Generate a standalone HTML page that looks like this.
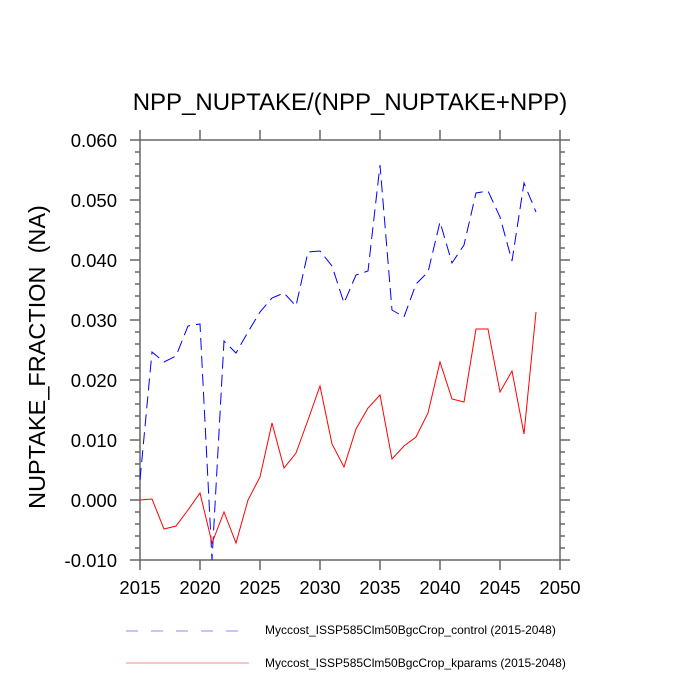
<!DOCTYPE html>
<html><head><meta charset="utf-8"><style>body{margin:0;background:#fff}svg{display:block}</style></head><body>
<svg width="700" height="700" xmlns="http://www.w3.org/2000/svg" font-family="Liberation Sans, sans-serif">
<rect width="700" height="700" fill="#fff"/>
<text x="350" y="110" font-size="24" text-anchor="middle">NPP_NUPTAKE/(NPP_NUPTAKE+NPP)</text>
<text transform="translate(45,357) rotate(-90)" font-size="23.5" text-anchor="middle" xml:space="preserve">NUPTAKE_FRACTION  (NA)</text>
<g stroke="#666" stroke-width="1.5" fill="none">
<rect x="140" y="140" width="420" height="420"/>
<path d="M140,560v10M200,560v10M260,560v10M320,560v10M380,560v10M440,560v10M500,560v10M560,560v10
M140,140v-10M200,140v-10M260,140v-10M320,140v-10M380,140v-10M440,140v-10M500,140v-10M560,140v-10
M140,140h-10M140,200h-10M140,260h-10M140,320h-10M140,380h-10M140,440h-10M140,500h-10M140,560h-10
M560,140h10M560,200h10M560,260h10M560,320h10M560,380h10M560,440h10M560,500h10M560,560h10"/>
<path d="M140,152h-5M140,164h-5M140,176h-5M140,188h-5M140,212h-5M140,224h-5M140,236h-5M140,248h-5M140,272h-5M140,284h-5M140,296h-5M140,308h-5M140,332h-5M140,344h-5M140,356h-5M140,368h-5M140,392h-5M140,404h-5M140,416h-5M140,428h-5M140,452h-5M140,464h-5M140,476h-5M140,488h-5M140,512h-5M140,524h-5M140,536h-5M140,548h-5
M560,152h5M560,164h5M560,176h5M560,188h5M560,212h5M560,224h5M560,236h5M560,248h5M560,272h5M560,284h5M560,296h5M560,308h5M560,332h5M560,344h5M560,356h5M560,368h5M560,392h5M560,404h5M560,416h5M560,428h5M560,452h5M560,464h5M560,476h5M560,488h5M560,512h5M560,524h5M560,536h5M560,548h5"/>
</g>
<g font-size="18.5" text-anchor="end">
<text x="117" y="147">0.060</text><text x="117" y="207">0.050</text><text x="117" y="267">0.040</text><text x="117" y="327">0.030</text><text x="117" y="387">0.020</text><text x="117" y="447">0.010</text><text x="117" y="507">0.000</text><text x="117" y="567">-0.010</text>
</g>
<g font-size="18.5" text-anchor="middle">
<text x="140" y="594">2015</text><text x="200" y="594">2020</text><text x="260" y="594">2025</text><text x="320" y="594">2030</text><text x="380" y="594">2035</text><text x="440" y="594">2040</text><text x="500" y="594">2045</text><text x="560" y="594">2050</text>
</g>
<polyline fill="none" stroke="#00f" stroke-width="1" stroke-dasharray="12,6" points="140,480 152,352 164,362 176,356 188,326 200,324 212,560 224,341 236,353 248,332 260,312 272,298 284,293 296,306 308,252 320,251 332,266 344,303 356,275 368,271 380,165 392,310 404,317 416,284 428,272 440,222 452,263 464,245 476,193 488,191 500,217 512,261 524,183 536,212"/>
<polyline fill="none" stroke="#f00" stroke-width="1" points="140,500 152,499 164,529 176,526 188,510 200,493 212,543 224,512 236,543 248,500 260,477 272,423 284,468 296,453 308,420 320,386 332,444 344,467 356,429 368,408 380,395 392,459 404,446 416,437 428,413 440,362 452,399 464,402 476,329 488,329 500,392 512,371 524,434 536,312"/>
<line x1="126" y1="631" x2="242" y2="631" stroke="#88f" stroke-dasharray="12,13"/>
<line x1="126" y1="663" x2="249" y2="663" stroke="#f88"/>
<g font-size="12"><text x="265" y="634">Myccost_ISSP585Clm50BgcCrop_control (2015-2048)</text><text x="265" y="667">Myccost_ISSP585Clm50BgcCrop_kparams (2015-2048)</text></g>
</svg>
</body></html>
